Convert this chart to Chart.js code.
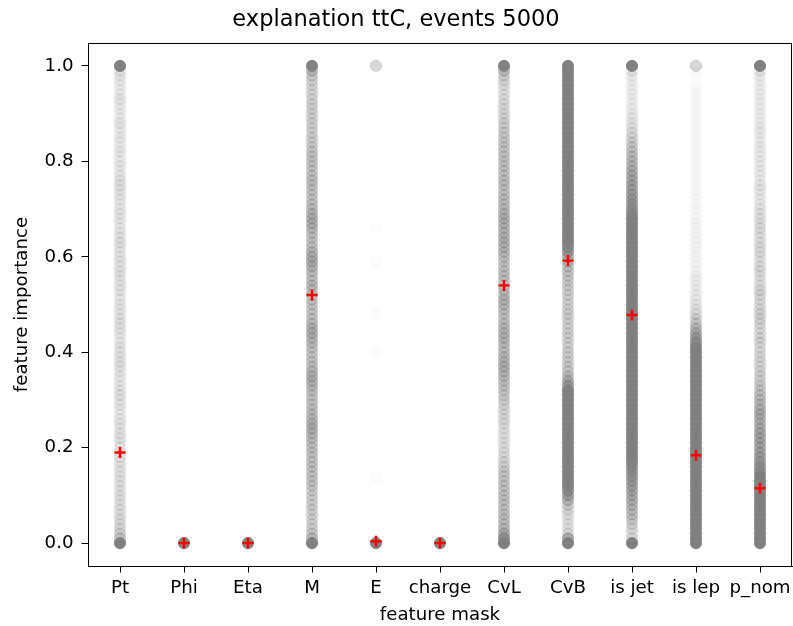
<!DOCTYPE html>
<html>
<head>
<meta charset="utf-8">
<script src="https://cdn.jsdelivr.net/npm/chart.js@4/dist/chart.umd.min.js"></script>
<style>
html,body{margin:0;padding:0;background:#fff;}
#wrap{width:793px;height:626px;}
</style>
</head>
<body>
<div id="wrap"><canvas id="c" width="793" height="626"></canvas></div>
<script>
// ---- data ----
const categories = ["Pt","Phi","Eta","M","E","charge","CvL","CvB","is jet","is lep","p_nom"];
const yTicks = [0.0, 0.2, 0.4, 0.6, 0.8, 1.0];
// importance levels (bins) at which events pile up
const importanceBins = [
  0.00,0.01,0.02,0.03,0.04,0.05,0.06,0.07,0.08,0.09,
  0.10,0.11,0.12,0.13,0.14,0.15,0.16,0.17,0.18,0.19,
  0.20,0.21,0.22,0.23,0.24,0.25,0.26,0.27,0.28,0.29,
  0.30,0.31,0.32,0.33,0.34,0.35,0.36,0.37,0.38,0.39,
  0.40,0.41,0.42,0.43,0.44,0.45,0.46,0.47,0.48,0.49,
  0.50,0.51,0.52,0.53,0.54,0.55,0.56,0.57,0.58,0.59,
  0.60,0.61,0.62,0.63,0.64,0.65,0.66,0.67,0.68,0.69,
  0.70,0.71,0.72,0.73,0.74,0.75,0.76,0.77,0.78,0.79,
  0.80,0.81,0.82,0.83,0.84,0.85,0.86,0.87,0.88,0.89,
  0.90,0.91,0.92,0.93,0.94,0.95,0.96,0.97,0.98,0.99,
  1.00];
// estimated number of events per bin for each feature (index 0 = 0.00 ... index 100 = 1.00)
const countsPt = [
  300,14,11,8,7,7,6,6,6,6,
  6,6,5,6,5,5,5,6,5,5,
  5,5,6,5,5,5,5,4,5,5,
  5,6,5,5,4,5,5,5,6,5,
  5,5,5,4,5,5,6,5,5,5,
  5,5,4,5,5,5,5,6,5,5,
  5,5,5,6,5,5,5,4,5,5,
  5,4,5,5,5,6,5,5,4,5,
  4,4,5,4,4,5,4,4,5,4,
  4,4,4,5,4,4,4,4,5,6,
  300];
const countsPhi = [
  300,0,0,0,0,0,0,0,0,0, 0,0,0,0,0,0,0,0,0,0, 0,0,0,0,0,0,0,0,0,0, 0,0,0,0,0,0,0,0,0,0,
  0,0,0,0,0,0,0,0,0,0, 0,0,0,0,0,0,0,0,0,0, 0,0,0,0,0,0,0,0,0,0, 0,0,0,0,0,0,0,0,0,0,
  0,0,0,0,0,0,0,0,0,0, 0,0,0,0,0,0,0,0,0,0, 0];
const countsEta = [
  300,0,0,0,0,0,0,0,0,0, 0,0,0,0,0,0,0,0,0,0, 0,0,0,0,0,0,0,0,0,0, 0,0,0,0,0,0,0,0,0,0,
  0,0,0,0,0,0,0,0,0,0, 0,0,0,0,0,0,0,0,0,0, 0,0,0,0,0,0,0,0,0,0, 0,0,0,0,0,0,0,0,0,0,
  0,0,0,0,0,0,0,0,0,0, 0,0,0,0,0,0,0,0,0,0, 0];
const countsM = [
  300,18,13,10,9,9,9,9,10,10,
  10,10,12,12,12,12,13,12,12,13,
  13,14,16,18,20,20,17,14,13,13,
  12,13,14,17,20,20,17,14,13,12,
  12,13,16,18,21,20,16,13,12,12,
  12,13,13,14,16,14,13,16,20,22,
  22,18,14,13,13,14,17,20,21,18,
  16,13,12,12,13,13,14,13,12,12,
  13,12,12,10,10,10,9,9,9,9,
  9,9,9,8,8,8,8,9,12,18,
  300];
const countsE = [
  300,0,0,0,0,0,0,0,0,0,
  0,0,0,0,1,0,0,0,0,0,
  0,0,0,0,0,0,0,0,0,0,
  0,0,0,0,0,0,0,0,0,0,
  1,0,0,0,0,0,0,0,1,0,
  0,0,0,0,0,0,0,0,0,1,
  0,0,0,0,0,0,1,0,0,0,
  0,0,0,0,0,0,0,0,0,0,
  0,0,0,0,0,0,0,0,0,0,
  0,0,0,0,0,0,0,0,0,0,
  12];
const countsCharge = [
  300,0,0,0,0,0,0,0,0,0, 0,0,0,0,0,0,0,0,0,0, 0,0,0,0,0,0,0,0,0,0, 0,0,0,0,0,0,0,0,0,0,
  0,0,0,0,0,0,0,0,0,0, 0,0,0,0,0,0,0,0,0,0, 0,0,0,0,0,0,0,0,0,0, 0,0,0,0,0,0,0,0,0,0,
  0,0,0,0,0,0,0,0,0,0, 0,0,0,0,0,0,0,0,0,0, 0];
const countsCvL = [
  300,48,24,17,14,14,13,13,13,13,
  13,13,12,12,12,11,10,8,7,7,
  6,6,6,6,6,7,7,7,8,8,
  10,11,12,13,14,16,18,19,18,16,
  14,14,16,18,19,17,14,13,13,14,
  17,18,16,14,13,13,14,14,13,13,
  14,16,18,19,19,18,18,19,20,18,
  16,14,14,13,13,14,14,13,13,13,
  13,12,12,12,12,11,11,10,10,8,
  8,7,7,7,6,6,7,8,11,17,
  300];
const countsCvB = [
  300,30,8,6,6,6,7,8,12,20,
  35,60,90,100,100,100,100,100,100,100,
  100,100,100,100,100,100,100,100,100,100,
  100,100,80,40,25,15,12,11,10,10,
  10,9,9,10,10,9,9,9,10,10,
  9,9,10,10,11,11,12,13,14,18,
  25,40,60,90,100,100,100,100,100,100,
  100,100,100,100,100,100,100,100,100,100,
  100,100,100,100,100,100,100,100,100,100,
  100,100,100,100,100,100,100,100,100,100,
  300];
const countsIsJet = [
  300,8,6,8,10,12,14,15,18,20,
  22,25,28,32,38,45,55,70,85,100,
  100,100,100,100,100,100,100,100,100,100,
  100,100,100,100,100,100,100,100,100,100,
  100,100,100,100,100,100,100,100,100,100,
  100,100,100,100,100,100,100,100,100,100,
  100,100,100,100,100,100,100,100,80,60,
  48,40,34,30,28,26,24,22,20,18,
  16,15,13,12,10,9,7,6,5,5,
  4,4,3,3,3,3,3,3,4,6,
  300];
const countsIsLep = [
  300,100,100,100,100,100,100,100,100,100,
  100,100,100,100,100,100,100,100,100,100,
  100,100,100,100,100,100,100,100,100,100,
  100,100,100,100,100,100,100,100,100,100,
  100,80,55,35,25,18,13,10,8,6,
  5,4,4,3,3,3,3,2,2,2,
  2,2,2,2,2,2,2,2,2,1,
  2,1,1,2,1,1,1,1,1,1,
  1,1,1,1,1,1,1,1,1,1,
  1,1,1,1,1,1,1,0,1,1,
  12];
const countsPnom = [
  300,100,100,100,100,100,100,100,100,100,
  100,100,100,100,80,60,45,36,30,27,
  24,25,26,24,21,19,20,22,19,17,
  15,14,12,11,10,9,9,8,8,8,
  7,7,8,8,7,7,8,9,9,8,
  7,7,8,8,7,6,6,7,7,6,
  6,7,7,6,6,6,7,6,6,6,
  5,5,4,4,5,5,4,4,4,4,
  4,4,4,4,4,3,4,4,3,3,
  3,3,3,3,3,3,3,3,4,6,
  300];
// mean importance per feature (red markers)
const meanImportance = [0.19, 0.0, 0.0, 0.52, 0.004, 0.0, 0.54, 0.592, 0.478, 0.184, 0.115];

// ---- build scatter points from the data ----
const allCounts = [countsPt,countsPhi,countsEta,countsM,countsE,countsCharge,countsCvL,countsCvB,countsIsJet,countsIsLep,countsPnom];
const baseAlpha = 0.03;
const pts = [], cols = [];
allCounts.forEach((arr, ci) => {
  arr.forEach((n, bi) => {
    if (n > 0) {
      pts.push({x: ci, y: importanceBins[bi]});
      const a = 1 - Math.pow(1 - baseAlpha, n);
      cols.push('rgba(128,128,128,' + a.toFixed(4) + ')');
    }
  });
});
const meanPts = meanImportance.map((v, i) => ({x: i, y: v}));

const FONT = "'DejaVu Sans', sans-serif";
const boxPlugin = {
  id: 'box',
  afterDraw(chart) {
    const a = chart.chartArea, ctx = chart.ctx;
    ctx.save();
    ctx.strokeStyle = '#000';
    ctx.lineWidth = 1;
    ctx.strokeRect(Math.round(a.left) + 0.5, Math.round(a.top) + 0.5,
      Math.round(a.right - a.left) - 1, Math.round(a.bottom - a.top));
    ctx.restore();
  }
};

new Chart(document.getElementById('c'), {
  type: 'scatter',
  data: {
    datasets: [
      {
        label: 'mean',
        data: meanPts,
        order: 0,
        pointStyle: 'cross',
        pointRadius: 5.5,
        pointBorderWidth: 2.4,
        pointBorderColor: '#ff0000',
        pointBackgroundColor: '#ff0000'
      },
      {
        label: 'events',
        data: pts,
        order: 1,
        pointRadius: 5.6,
        pointBorderWidth: 0.9,
        pointBackgroundColor: cols,
        pointBorderColor: cols
      }
    ]
  },
  options: {
    responsive: false,
    animation: false,
    layout: {autoPadding: false, padding: {left: 0, right: 1, top: 0, bottom: 0}},
    plugins: {
      legend: {display: false},
      tooltip: {enabled: false},
      title: {
        display: true,
        text: 'explanation ttC, events 5000',
        color: '#000',
        font: {family: FONT, size: 22.5, weight: 'normal'},
        padding: {top: 6.5, bottom: 9.5}
      }
    },
    scales: {
      x: {
        type: 'linear',
        min: -0.5, max: 10.5,
        afterBuildTicks: (s) => { s.ticks = categories.map((c, i) => ({value: i})); },
        afterFit: (s) => { s.height = 60; s.paddingLeft = 0; s.paddingRight = 0; },
        grid: {display: true, drawOnChartArea: false, drawTicks: true, tickLength: 6.5, color: '#000'},
        border: {display: true, color: '#000'},
        ticks: {
          autoSkip: false, maxRotation: 0, minRotation: 0, padding: 4.5,
          color: '#000', font: {family: FONT, size: 18.2},
          callback: (v) => categories[v]
        },
        title: {display: true, text: 'feature mask', color: '#000',
          font: {family: FONT, size: 18.2}, padding: {top: 3, bottom: 0}}
      },
      y: {
        type: 'linear',
        min: -0.048, max: 1.048,
        afterBuildTicks: (s) => { s.ticks = yTicks.map(v => ({value: v})); },
        afterFit: (s) => { s.width = 88; s.paddingTop = 0; s.paddingBottom = 0; },
        grid: {display: true, drawOnChartArea: false, drawTicks: true, tickLength: 6.5, color: '#000'},
        border: {display: true, color: '#000'},
        ticks: {
          padding: 8, color: '#000', font: {family: FONT, size: 18.2},
          callback: (v) => Number(v).toFixed(1)
        },
        title: {display: true, text: 'feature importance', color: '#000',
          font: {family: FONT, size: 18.2}, padding: {top: 11, bottom: 0}}
      }
    }
  },
  plugins: [boxPlugin]
});
</script>
</body>
</html>
